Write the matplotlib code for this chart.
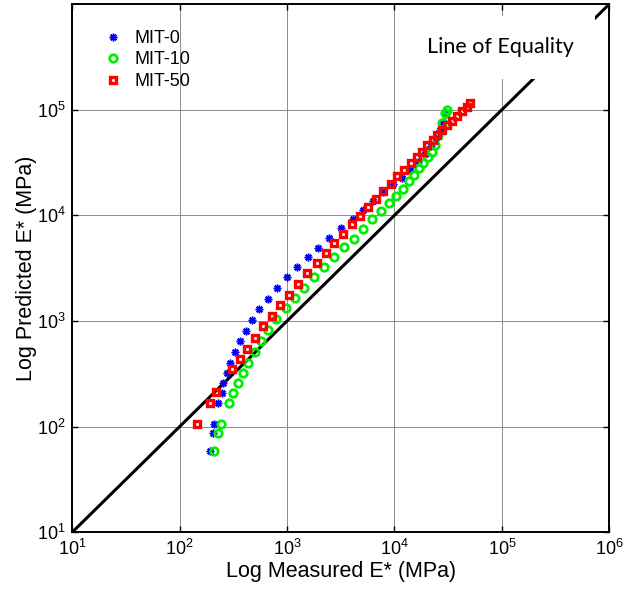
import numpy as np
import matplotlib
matplotlib.use("Agg")
import matplotlib.pyplot as plt

plt.rcParams['font.family'] = ['Liberation Sans', 'DejaVu Sans']
plt.rcParams['mathtext.default'] = 'regular'

# MIT-0 (measured, predicted) in MPa
mit0_x = [191, 203, 208, 229, 248, 255, 274, 296, 327, 364, 414, 476, 551, 668, 800,
          991, 1236, 1555, 1951, 2470, 3197, 4083, 5057, 6267, 7816, 9680, 11740,
          13940, 16550, 19230, 21880, 24370, 26550, 28300, 30180]
mit0_y = [58.5, 87, 106, 166, 209, 256, 325, 404, 510, 641, 809, 1025, 1306, 1622, 2047,
          2600, 3228, 4043, 4960, 6068, 7540, 9225, 11140, 13550, 16480, 19600, 22800,
          27150, 32300, 38460, 45750, 54400, 64730, 77060, 91700]

# MIT-10
mit10_x = [210, 229, 243, 288, 316, 347, 386, 433, 499, 571, 668, 788, 977, 1185, 1446,
           1791, 2206, 2735, 3388, 4198, 5125, 6215, 7486, 8893, 10330, 12080, 13740,
           15200, 17030, 18550, 20380, 22350, 23840, 25580, 27500, 29500, 30620]
mit10_y = [58.5, 87, 106, 169, 206, 260, 321, 399, 503, 641, 817, 1038, 1318, 1637, 2061,
           2600, 3228, 4043, 4993, 6026, 7464, 9225, 11070, 13050, 15100, 17700, 20930,
           24200, 27950, 31620, 35480, 40180, 46450, 57700, 74300, 92300, 99300]

# MIT-50
mit50_x = [146, 193, 219, 307, 362, 421, 505, 600, 721, 865, 1048, 1271, 1541, 1886,
           2288, 2750, 3336, 4020, 4772, 5664, 6733, 7871, 9225, 10620, 12250, 14150,
           16100, 17920, 20200, 22680, 25000, 27860, 30620, 34070, 37930, 42250, 46950,
           51030]
mit50_y = [106, 167, 211, 352, 435, 548, 695, 887, 1114, 1406, 1746, 2218, 2818, 3524,
           4406, 5478, 6718, 8222, 9930, 12020, 14370, 16960, 19900, 23330, 26990, 31120,
           36030, 40180, 46450, 51760, 57700, 64300, 71700, 78200, 87700, 97200, 106700,
           115200]

eq_line = [10, 1e6]
xticks = [1e1, 1e2, 1e3, 1e4, 1e5, 1e6]
yticks = [1e1, 1e2, 1e3, 1e4, 1e5]

fig = plt.figure(figsize=(6.34, 5.90), dpi=100)
ax = fig.add_axes([0.114, 0.098, 0.847, 0.895])

ax.plot(mit0_x, mit0_y, linestyle='none', marker=(8, 2, 0), color='#0000ff', markersize=5.5,
        markeredgewidth=1.1, label='MIT-0', zorder=3)
ax.plot(mit10_x, mit10_y, linestyle='none', marker='o', color='#00ee00', markersize=5.4,
        markerfacecolor='none', markeredgewidth=2.0, label='MIT-10', zorder=3)
ax.plot(mit50_x, mit50_y, linestyle='none', marker='s', color='#ff0000', markersize=4.8,
        markerfacecolor='none', markeredgewidth=2.4, label='MIT-50', zorder=4)
ax.plot(eq_line, eq_line, color='black', linewidth=2.2, zorder=2)

ax.set_xscale('log')
ax.set_yscale('log')
ax.set_xlim(10, 1e6)
ax.set_ylim(10, 1e6)
ax.set_xticks(xticks)
ax.set_yticks(yticks)
ax.minorticks_off()

ax.grid(True, color='0.55', linewidth=0.7, zorder=0)
ax.set_axisbelow(True)

ax.tick_params(direction='in', length=4, width=1, top=True, right=True,
               labelsize=13, pad=5)
for s in ax.spines.values():
    s.set_linewidth(1.4)
    s.set_zorder(6)

ax.set_xlabel('Log Measured E* (MPa)', fontsize=15.5, labelpad=1)
ax.set_ylabel('Log Predicted E* (MPa)', fontsize=15.5, labelpad=0)

ax.text(0.797, 0.918, 'Line of Equality', transform=ax.transAxes, fontsize=15.5,
        family=['Lato', 'DejaVu Sans'], ha='center', va='center', zorder=5,
        bbox=dict(boxstyle='square,pad=1.0', facecolor='white', edgecolor='none'))

ax.legend(loc='upper left', bbox_to_anchor=(0.035, 0.975), frameon=False, fontsize=13,
          handlelength=1.0, handletextpad=0.7, labelspacing=0.25, borderaxespad=0.3)

fig.savefig('out.png', dpi=100)
